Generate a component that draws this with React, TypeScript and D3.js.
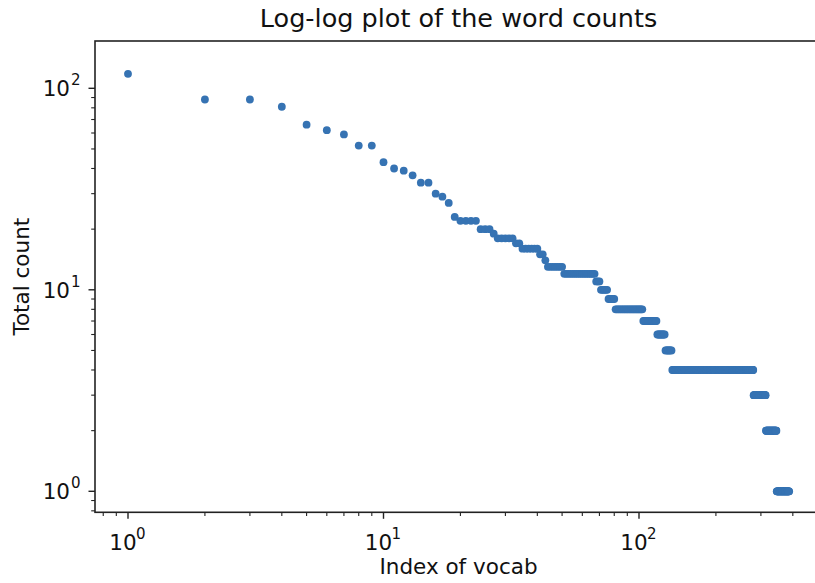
import React from "react";
import * as d3 from "d3";

// Word counts by rank (index of vocab). First ranks individually:
const headCounts = [118, 88, 88, 81, 66, 62, 59, 52, 52, 43, 40, 39, 37, 34, 34, 30, 29, 27, 23];
// Then plateaus: count level and the last vocab index holding that count
const tailLevels = [22, 20, 19, 18, 17, 16, 15, 14, 13, 12, 11, 10, 9, 8, 7, 6, 5, 4, 3, 2, 1];
const tailLastIndex = [23, 26, 27, 32, 34, 40, 42, 43, 50, 67, 70, 75, 80, 103, 117, 126, 134, 280, 313, 345, 387];

const xMajorTicks = [1, 10, 100];
const yMajorTicks = [1, 10, 100];
const xTickExps = ["0", "1", "2"];
const yTickExps = ["0", "1", "2"];

const title = "Log-log plot of the word counts";
const xLabel = "Index of vocab";
const yLabel = "Total count";

const W = 815;
const H = 583;
const left = 95;
const right = 822;
const top = 41;
const bottom = 512.3;
const font = "DejaVu Sans, Verdana, sans-serif";
const dotColor = "#3673b3";

function buildPoints() {
  const pts: { i: number; v: number }[] = [];
  headCounts.forEach((v, k) => pts.push({ i: k + 1, v }));
  let idx = headCounts.length + 1;
  tailLevels.forEach((lv, k) => {
    for (; idx <= tailLastIndex[k]; idx++) pts.push({ i: idx, v: lv });
  });
  return pts;
}

function minorTicks(lo: number, hi: number) {
  const out: number[] = [];
  for (let e = -1; e <= 3; e++) {
    for (let m = 2; m <= 9; m++) {
      const v = m * Math.pow(10, e);
      if (v >= lo && v <= hi) out.push(v);
    }
  }
  return out;
}

export default function App() {
  const points = buildPoints();
  // decade mapping matched to the reference: 1 -> 128, 100 -> 639
  const xs = d3.scaleLog().domain([1, 100]).range([128, 639]);
  const ys = d3.scaleLog().domain([1, 100]).range([491.3, 88.3]);
  const xDom = [xs.invert(left), xs.invert(right)];
  const yDom = [ys.invert(bottom), ys.invert(top)];

  const xMinor = minorTicks(xDom[0], xDom[1]);
  const yMinor = minorTicks(yDom[0], yDom[1]);

  const fs = 21.5;
  return (
    <svg
      width={W}
      height={H}
      style={{ position: "absolute", left: 0, top: 0, background: "#fff" }}
      fontFamily={font}
    >
      <rect x={0} y={0} width={W} height={H} fill="#fff" />
      <defs>
        <clipPath id="plotClip">
          <rect x={left} y={top} width={right - left} height={bottom - top} />
        </clipPath>
      </defs>
      <g clipPath="url(#plotClip)">
        {points.map((p) => (
          <circle key={p.i} cx={xs(p.i)} cy={ys(p.v)} r={3.9} fill={dotColor} />
        ))}
      </g>
      {/* spines */}
      <rect x={left} y={top} width={right - left} height={bottom - top} fill="none" stroke="#222" strokeWidth={1.6} />
      {/* x ticks */}
      {xMajorTicks.map((t, k) => (
        <g key={"xm" + t}>
          <line x1={xs(t)} x2={xs(t)} y1={bottom} y2={bottom + 6.5} stroke="#222" strokeWidth={1.4} />
          <text x={xs(t) - 5} y={bottom + 38} fontSize={fs} textAnchor="middle" fill="#111">
            10
          </text>
          <text x={xs(t) + 8} y={bottom + 27} fontSize={fs * 0.7} textAnchor="start" fill="#111">
            {xTickExps[k]}
          </text>
        </g>
      ))}
      {xMinor.map((t) => (
        <line key={"xn" + t} x1={xs(t)} x2={xs(t)} y1={bottom} y2={bottom + 3.8} stroke="#222" strokeWidth={1.1} />
      ))}
      {/* y ticks */}
      {yMajorTicks.map((t, k) => (
        <g key={"ym" + t}>
          <line x1={left} x2={left - 6.5} y1={ys(t)} y2={ys(t)} stroke="#222" strokeWidth={1.4} />
          <text x={left - 25} y={ys(t) + 8} fontSize={fs} textAnchor="end" fill="#111">
            10
          </text>
          <text x={left - 24} y={ys(t) - 3} fontSize={fs * 0.7} textAnchor="start" fill="#111">
            {yTickExps[k]}
          </text>
        </g>
      ))}
      {yMinor.map((t) => (
        <line key={"yn" + t} x1={left} x2={left - 3.8} y1={ys(t)} y2={ys(t)} stroke="#222" strokeWidth={1.1} />
      ))}
      {/* labels */}
      <text x={(left + right) / 2} y={27} fontSize={25.5} textAnchor="middle" fill="#111">
        {title}
      </text>
      <text x={(left + right) / 2} y={574} fontSize={fs} textAnchor="middle" fill="#111">
        {xLabel}
      </text>
      <text
        transform={`translate(29, ${(top + bottom) / 2}) rotate(-90)`}
        fontSize={fs}
        textAnchor="middle"
        fill="#111"
      >
        {yLabel}
      </text>
    </svg>
  );
}
